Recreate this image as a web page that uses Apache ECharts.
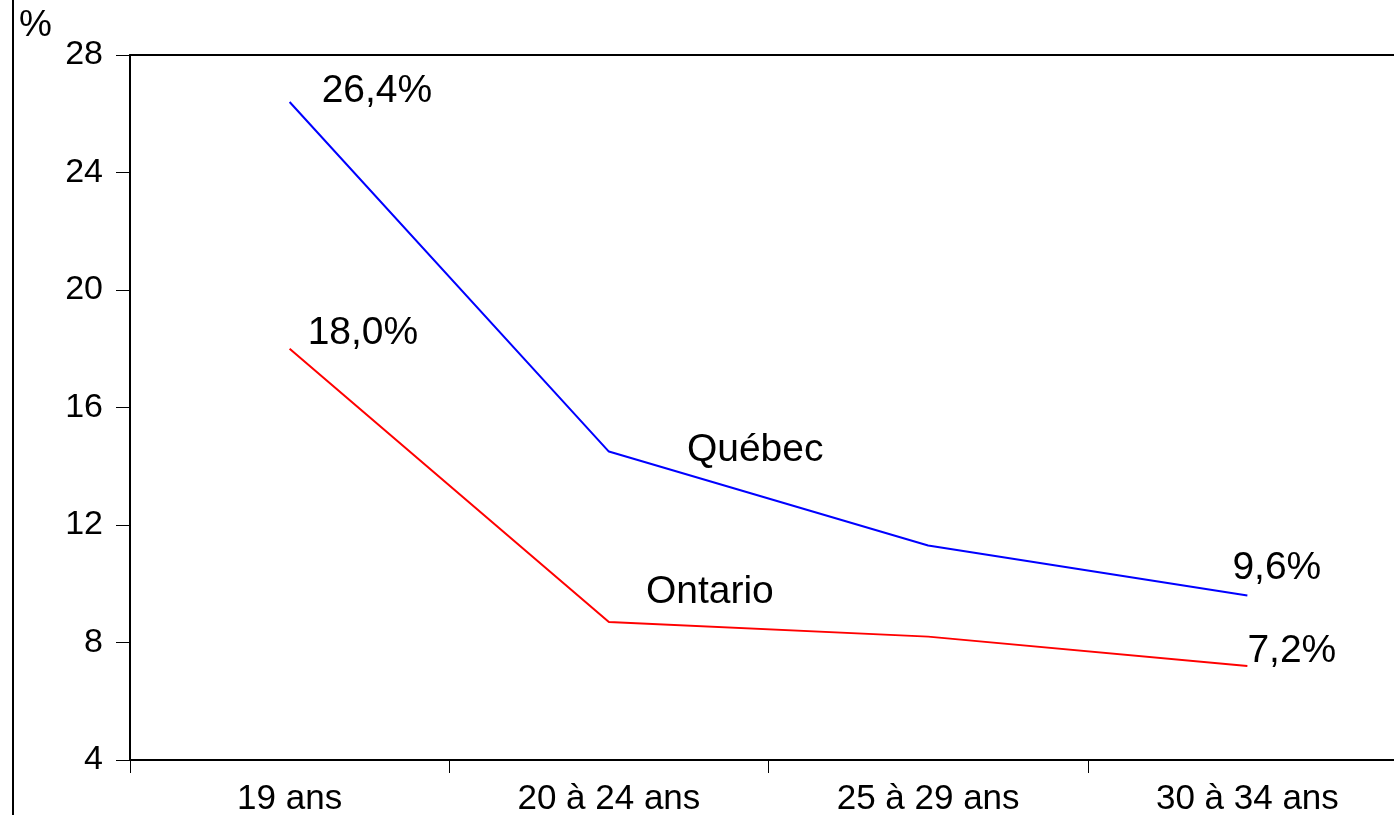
<!DOCTYPE html>
<html>
<head>
<meta charset="utf-8">
<script src="https://cdn.jsdelivr.net/npm/echarts@6/dist/echarts.min.js"></script>
<style>
html, body { margin: 0; padding: 0; background: #fff; }
#chart { width: 1394px; height: 815px; }
</style>
</head>
<body>
<div id="chart"></div>
<script>
// groupes d'age
var categories = ['19 ans', '20 à 24 ans', '25 à 29 ans', '30 à 34 ans'];
var quebec = [26.4, 14.5, 11.3, 9.6];
var ontario = [18.0, 8.7, 8.2, 7.2];
var yTicks = [4, 8, 12, 16, 20, 24, 28];

var FONT = '"Liberation Sans", Arial, sans-serif';

// etiquettes sur certains points seulement
function pointLabel(text, dx, dy) {
  return {
    show: true,
    position: 'right',
    distance: 0,
    offset: [dx, dy],
    formatter: text,
    color: '#000',
    fontFamily: FONT,
    fontSize: 39
  };
}
function fmt(v) {
  return v.toFixed(1).replace('.', ',') + '%';
}

var quebecData = quebec.map(function (v) { return { value: v }; });
quebecData[0].label = pointLabel(fmt(quebec[0]), 32, -11);
quebecData[1].label = pointLabel('Québec', 78, -1);
quebecData[3].label = pointLabel(fmt(quebec[3]), -15, -27);

var ontarioData = ontario.map(function (v) { return { value: v }; });
ontarioData[0].label = pointLabel(fmt(ontario[0]), 18, -16);
ontarioData[1].label = pointLabel('Ontario', 37, -30);
ontarioData[3].label = pointLabel(fmt(ontario[3]), 0, -15);

var chart = echarts.init(document.getElementById('chart'));
chart.setOption({
  animation: false,
  backgroundColor: '#fff',
  title: {
    text: '%',
    left: 14,
    top: 2,
    textStyle: { fontFamily: FONT, fontSize: 37, fontWeight: 'normal', color: '#000' }
  },
  graphic: [{
    type: 'line',
    shape: { x1: 13, y1: 0, x2: 13, y2: 815 },
    style: { stroke: '#000', lineWidth: 2 }
  }],
  grid: {
    left: 130,
    top: 55,
    width: 1277,
    height: 705,
    outerBoundsMode: 'none',
    show: false
  },
  xAxis: [
    {
      type: 'category',
      data: categories,
      boundaryGap: true,
      axisLine: { lineStyle: { color: '#000', width: 2 } },
      axisTick: { show: true, length: 13, lineStyle: { color: '#000', width: 1 } },
      axisLabel: { color: '#000', fontFamily: FONT, fontSize: 35, margin: 22 },
      splitLine: { show: false }
    },
    {
      // bord superieur du cadre
      type: 'category',
      position: 'top',
      data: categories,
      axisLine: { show: true, lineStyle: { color: '#000', width: 2 } },
      axisTick: { show: false },
      axisLabel: { show: false },
      splitLine: { show: false }
    }
  ],
  yAxis: {
    type: 'value',
    min: yTicks[0],
    max: yTicks[yTicks.length - 1],
    interval: 4,
    axisLine: { show: true, lineStyle: { color: '#000', width: 2 } },
    axisTick: { show: true, length: 14, lineStyle: { color: '#000', width: 1 } },
    axisLabel: { color: '#000', fontFamily: FONT, fontSize: 34, margin: 27 },
    splitLine: { show: false }
  },
  series: [
    {
      name: 'Québec',
      type: 'line',
      data: quebecData,
      symbol: 'circle',
      symbolSize: 0,
      lineStyle: { color: '#0000ff', width: 2 },
      itemStyle: { color: '#0000ff' }
    },
    {
      name: 'Ontario',
      type: 'line',
      data: ontarioData,
      symbol: 'circle',
      symbolSize: 0,
      lineStyle: { color: '#ff0000', width: 2 },
      itemStyle: { color: '#ff0000' }
    }
  ]
});
</script>
</body>
</html>
